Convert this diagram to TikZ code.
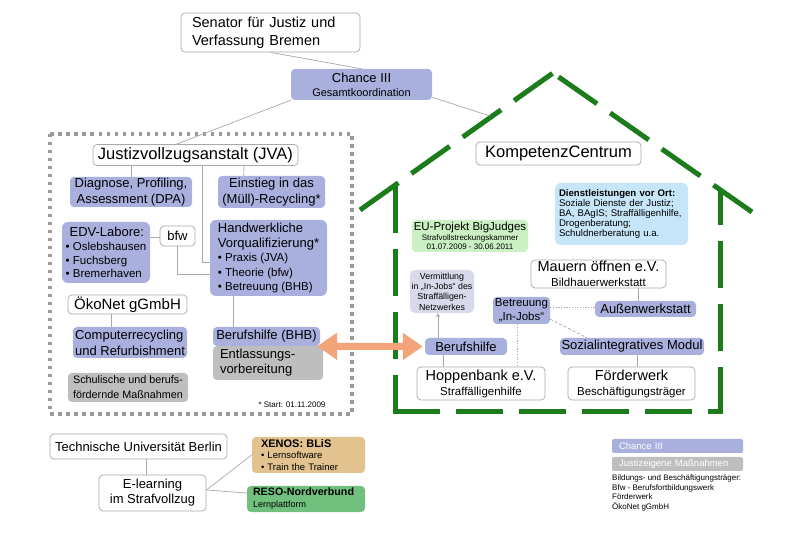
\documentclass[tikz,border=0pt]{standalone}
\usepackage{fontspec}
\setmainfont{Liberation Sans}
\usepackage{tikz}
\usepackage{xcolor}
\usetikzlibrary{arrows.meta}
\definecolor{Chance_Lav}{HTML}{A9B0DD}
\definecolor{Justiz_Gray}{HTML}{BEBEBE}
\definecolor{Verm_Lav}{HTML}{D8DAE9}
\definecolor{Dienst_Blue}{HTML}{C6E5F8}
\definecolor{EU_Green}{HTML}{CBF0C4}
\definecolor{Xenos_Tan}{HTML}{E2C28F}
\definecolor{Reso_Green}{HTML}{72C07D}
\definecolor{Frame_Gray}{HTML}{9A9A9A}
\definecolor{House_Green}{HTML}{1C7C1C}
\definecolor{Arrow_Orange}{HTML}{F3A47B}
\definecolor{Line_Gray}{HTML}{A8A8A8}
\newcommand{\setfs}[2]{\fontsize{#1}{#2}\selectfont}

\begin{document}
\begin{tikzpicture}[x=1pt, y=-1pt,
    box/.style={rounded corners=4pt, inner sep=0pt, align=center, text=black},
    wbox/.style={box, draw=Line_Gray, fill=white, line width=0.7pt},
    lbox/.style={box, fill=Chance_Lav},
    gbox/.style={box, fill=Justiz_Gray},
    boxsize/.style 2 args={minimum width=#1pt, minimum height=#2pt},
    lefttext/.style 2 args={align=left, text width=#1pt, inner xsep=#2pt},
    link/.style={Line_Gray, line width=0.7pt},
    dotlink/.style={link, dash pattern=on 1.2pt off 1.5pt},
    dashlink/.style={link, dash pattern=on 3pt off 2pt},
    house/.style={House_Green, line width=5pt, dash pattern=on 47pt off 16pt},
    jvaframe/.style={Frame_Gray, line width=3.5pt, dash pattern=on 3.5pt off 4.5pt},
    bigarrow/.style={Arrow_Orange, line width=7pt,
        {Triangle[length=20pt, width=26pt]}-{Triangle[length=20pt, width=26pt]}}]
    \fill[white] (0,0) rectangle (788,537);
    \useasboundingbox (0,0) rectangle (788,537);

    % Frame (JVA)
    \draw[jvaframe] (50,134) rectangle (352,414);

    % House (KompetenzCentrum)
    \draw[house] (360,210) -- (553,73);
    \draw[house] (752,212) -- (553,73);
    \draw[house] (395,186) -- (395,412);
    \draw[house] (392.5,412) -- (722.5,412);
    \draw[house] (720,414.5) -- (720,189);

    % Top
    \node[wbox, boxsize={179}{39}, lefttext={157}{11}, font=\setfs{14.5}{18}] (sen) at (270.5,32.5)
        {Senator für Justiz und\\Verfassung Bremen};
    \node[lbox, boxsize={141}{31}, font=\setfs{13}{14}] (chance) at (361.5,84.5)
        {Chance III\\{\setfs{11}{14}Gesamtkoordination}};
    \coordinate (roofhit) at (490,116);

    % JVA
    \node[wbox, boxsize={205}{21}, font=\setfs{16.5}{18}] (jva) at (195.5,155) {Justizvollzugsanstalt (JVA)};
    \node[lbox, boxsize={122}{30}, font=\setfs{13}{16}] (diag) at (131,192)
        {Diagnose, Profiling,\\Assessment (DPA)};
    \node[lbox, boxsize={107}{32}, font=\setfs{13}{16}] (einst) at (271.5,192)
        {Einstieg in das\\(Müll)-Recycling*};
    \node[lbox, boxsize={88}{61}, align=left, font=\setfs{11.5}{13.7}, rounded corners=6pt] (edv) at (106,252.5)
        {{\setfs{13}{14}\hspace{4pt}EDV-Labore:}\\• Oslebshausen\\• Fuchsberg\\• Bremerhaven};
    \node[wbox, boxsize={35}{20}, font=\setfs{13}{14}] (bfw) at (177.5,236) {bfw};
    \node[lbox, boxsize={117}{76}, align=left, font=\setfs{11.5}{14.5}, rounded corners=6pt] (hand) at (268.5,258)
        {{\setfs{13}{14.5}Handwerkliche}\\{\setfs{13}{14.5}Vorqualifizierung*}\\• Praxis (JVA)\\• Theorie (bfw)\\• Betreuung (BHB)};
    \node[wbox, boxsize={119}{19}, font=\setfs{15}{17}] (oeko) at (127.5,304.5) {ÖkoNet gGmbH};
    \node[lbox, boxsize={114}{31}, align=left, font=\setfs{13}{16}] (comp) at (130,342.5)
        {Computerrecycling\\und Refurbishment};
    \node[gbox, boxsize={120}{29}, align=left, font=\setfs{10.8}{15}] (schul) at (128,387.5)
        {Schulische und berufs-\\fördernde Maßnahmen};
    \node[lbox, boxsize={107}{19}, font=\setfs{13}{15}] (bhb) at (266.5,336.5) {Berufshilfe (BHB)};
    \node[gbox, boxsize={110}{34}, lefttext={96}{7}, font=\setfs{13}{15}] (entl) at (268,363)
        {Entlassungs-\\vorbereitung};
    \node[inner sep=0pt, font=\setfs{8}{9}] (startnote) at (292,405) {* Start: 01.11.2009};

    \draw[link] (sen.south) -- (chance.north);
    \draw[link] (chance.south west) -- ([xshift=-19]jva.north);
    \draw[link] ([yshift=3]chance.south east) -- (roofhit);
    \draw[link] ([xshift=-64.5]jva.south) -- (diag.north);
    \draw[link] ([xshift=48.5]jva.south) -- ([xshift=26]einst.north west);
    \draw[link] ([xshift=6.5]jva.south) |- ([yshift=-4]hand.west);
    \draw[link] ([yshift=15.5]edv.east) -- ([yshift=-1]bfw.west);
    \draw[link] (bfw.south) |- ([yshift=-16]hand.west);
    \draw[link] ([xshift=-16.5]oeko.south) -- ([xshift=-19]comp.north);
    \draw[link] ([xshift=-35.5]hand.south) -- ([xshift=-33.5]bhb.north);

    % KompetenzCentrum
    \node[wbox, boxsize={165}{23}, font=\setfs{16.5}{18}] (komp) at (558.5,153.5) {KompetenzCentrum};
    \node[box, fill=Dienst_Blue, boxsize={133}{62}, lefttext={125}{4}, font=\setfs{9.6}{9.8}, rounded corners=6pt] (dienst) at (621.5,214)
        {\textbf{Dienstleistungen vor Ort:}\\Soziale Dienste der Justiz;\\BA, BAgIS; Straffälligenhilfe,\\Drogenberatung;\\Schuldnerberatung u.a.};
    \node[box, fill=EU_Green, boxsize={116}{32}, font=\setfs{8}{9.3}] (eu) at (470,236)
        {{\setfs{11.5}{12}EU-Projekt BigJudges}\\Strafvollstreckungskammer\\01.07.2009 - 30.06.2011};
    \node[box, fill=Verm_Lav, boxsize={64}{43}, font=\setfs{8.8}{10.3}, rounded corners=5pt] (verm) at (442,291.5)
        {Vermittlung\\in „In-Jobs“ des\\Straffälligen-\\Netzwerkes};
    \node[lbox, boxsize={57}{27}, font=\setfs{11.5}{14}] (betr) at (521.5,310.5) {Betreuung\\„In-Jobs“};
    \node[wbox, boxsize={135}{28}, font=\setfs{14.5}{15.5}] (mauern) at (598.5,274)
        {Mauern öffnen e.V.\\{\setfs{11.5}{15.5}Bildhauerwerkstatt}};
    \node[lbox, boxsize={101}{16}, font=\setfs{13}{14}] (aussen) at (645.5,309) {Außenwerkstatt};
    \node[lbox, boxsize={82}{17}, font=\setfs{13}{14}] (berufR) at (466,346.5) {Berufshilfe};
    \node[lbox, boxsize={144}{17}, font=\setfs{13}{14}] (sozial) at (632,346.5) {Sozialintegratives Modul};
    \node[wbox, boxsize={128}{33}, font=\setfs{14.5}{15}] (hopp) at (481,383.5)
        {Hoppenbank e.V.\\{\setfs{11.5}{15}Straffälligenhilfe}};
    \node[wbox, boxsize={127}{33}, font=\setfs{14.5}{15}] (foerder) at (631.5,383.5)
        {Förderwerk\\{\setfs{11.5}{15}Beschäftigungsträger}};

    \draw[link, -{Stealth[length=4pt, width=4pt]}] ([xshift=-28]berufR.north) -- ([xshift=-4]verm.south);
    \draw[link] ([xshift=-23]berufR.south) -- ([xshift=-38]hopp.north);
    \draw[dotlink] ([xshift=-4.5]betr.south) -- ([xshift=36]hopp.north);
    \draw[dotlink] ([yshift=3.5]betr.east) -- ([yshift=2]aussen.west);
    \draw[dashlink] ([yshift=5]betr.south east) -- ([xshift=27]sozial.north west);
    \draw[link] ([xshift=39.5]mauern.south) -- ([xshift=-7.5]aussen.north);
    \draw[link] ([xshift=5]sozial.south) -- ([xshift=5.5]foerder.north);

    % Arrow between both Berufshilfe boxes
    \draw[bigarrow] ([xshift=-3]bhb.south east) -- ([xshift=-2]berufR.west);

    % E-learning
    \node[wbox, boxsize={177}{25}, font=\setfs{13}{14}] (tu) at (138.5,446.5) {Technische Universität Berlin};
    \node[wbox, boxsize={107}{36}, font=\setfs{13}{15}] (elearn) at (152.5,493) {E-learning\\im Strafvollzug};
    \node[box, fill=Xenos_Tan, boxsize={113}{36}, lefttext={95}{9}, font=\setfs{9.5}{11.7}] (xenos) at (308.5,455)
        {{\setfs{11}{12.7}\textbf{XENOS: BLiS}}\\• Lernsoftware\\• Train the Trainer};
    \node[box, fill=Reso_Green, boxsize={118}{26}, lefttext={106}{6}, font=\setfs{9}{12}] (reso) at (306,499)
        {{\setfs{10.7}{12}\textbf{RESO-Nordverbund}}\\Lernplattform};

    \draw[link] ([xshift=7.5]tu.south) -- ([xshift=-6.5]elearn.north);
    \draw[link] ([yshift=3]elearn.east) -- (xenos.west);
    \draw[link] ([yshift=3]elearn.east) -- ([yshift=6]reso.west);

    % Legend
    \node[lbox, rounded corners=2pt, boxsize={131}{14}, lefttext={117}{7}, font=\setfs{9.5}{10}, text=white] (legchance) at (677.5,446) {Chance III};
    \node[gbox, rounded corners=2pt, boxsize={131}{14}, lefttext={117}{7}, font=\setfs{9.5}{10}, text=white] (legjustiz) at (677.5,464) {Justizeigene Maßnahmen};
    \node[anchor=north west, align=left, inner sep=0pt, font=\setfs{8}{9.5}] (legtext) at (612,475)
        {Bildungs- und Beschäftigungsträger:\\Bfw - Berufsfortbildungswerk\\Förderwerk\\ÖkoNet gGmbH};
\end{tikzpicture}
\end{document}
